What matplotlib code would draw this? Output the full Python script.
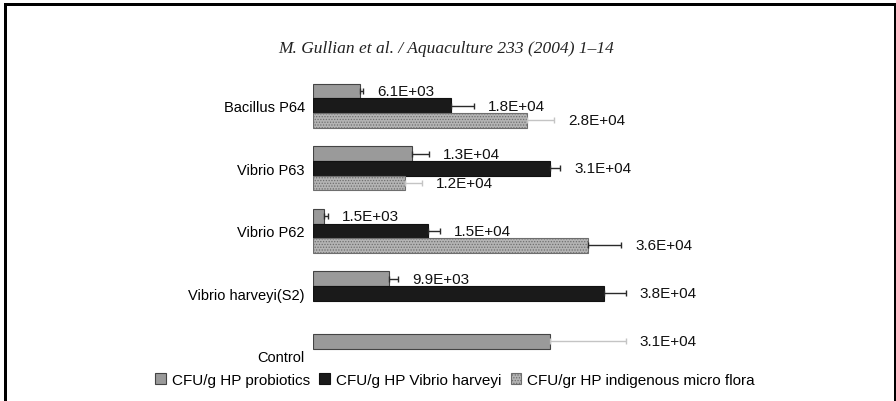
import numpy as np
import matplotlib.pyplot as plt
from matplotlib.lines import Line2D

# ── Data (CFU/g hepatopancreas) ───────────────────────────────────────
categories = ["Bacillus P64", "Vibrio P63", "Vibrio P62", "Vibrio harveyi(S2)", "Control"]

probiotics     = [6100, 13000, 1500, 9900, 31000]
probiotics_err = [500, 2100, 400, 1200, 9900]

vibrio     = [18000, 31000, 15000, 38000, np.nan]
vibrio_err = [3000, 1300, 1600, 2900, np.nan]

indigenous     = [28000, 12000, 36000, np.nan, np.nan]
indigenous_err = [3500, 2200, 4300, np.nan, np.nan]

series_names = ["CFU/g HP probiotics", "CFU/g HP Vibrio harveyi",
                "CFU/gr HP indigenous micro flora"]

plt.rcParams['font.family'] = ['Liberation Sans', 'DejaVu Sans']
plt.rcParams['hatch.linewidth'] = 0.6

fig = plt.figure(figsize=(8.96, 4.02), dpi=100)
W, H = 896, 402

# axes placed in pixel terms: x from 313 to ~695, y from 78 to 380
ax = fig.add_axes([313 / W, 1 - 380 / H, 382.5 / W, 302 / H])

h = 0.233
ypos = np.arange(len(categories))

styles = [
    dict(color="#9a9a9a", edgecolor="#444444", hatch=None),
    dict(color="#1a1a1a", edgecolor="#111111", hatch=None),
    dict(color="#b4b4b4", edgecolor="#6e6e6e", hatch="......"),
]
# (series, category) whose error whisker is drawn pale in the original
pale_err = {(0, 4), (2, 0), (2, 1)}

all_vals = [probiotics, vibrio, indigenous]
all_errs = [probiotics_err, vibrio_err, indigenous_err]

for k, (vals, errs) in enumerate(zip(all_vals, all_errs)):
    y = ypos + (k - 1) * h
    st = styles[k]
    ax.barh(y, vals, height=h, color=st["color"], edgecolor=st["edgecolor"],
            linewidth=0.8, hatch=st["hatch"], label=series_names[k])
    for i, (yi, v, e) in enumerate(zip(y, vals, errs)):
        if np.isnan(v):
            continue
        ecol = "#c4c4c4" if (k, i) in pale_err else "#2a2a2a"
        ax.errorbar(v, yi, xerr=[[0], [e]], fmt="none", ecolor=ecol,
                    elinewidth=1.0, capsize=2.5, capthick=1.0)
        ax.annotate(f"{v:.1E}", xy=(v + e, yi), xytext=(10, 0),
                    textcoords="offset points", va="center", ha="left",
                    fontsize=11, color="#111111")

# Control lives in the probiotics slot, label sits at the group centre
ax.set_yticks(ypos)
ax.set_yticklabels(categories, fontsize=10.5)
ax.tick_params(axis="y", length=0, pad=6)
ax.set_ylim(4.37, -0.46)
ax.set_xlim(0, 50000)
ax.set_xticks([])
for s in ax.spines.values():
    s.set_visible(False)

# legend across the bottom
fig.legend(loc="center", bbox_to_anchor=(455 / W, 1 - 381 / H), ncol=3,
           frameon=False, fontsize=11, handlelength=0.7, handleheight=0.7,
           handletextpad=0.4, columnspacing=0.6)

# journal header
fig.text(446 / W, 1 - 49 / H, "M. Gullian et al. / Aquaculture 233 (2004) 1\u201314",
         ha="center", va="center", fontsize=12.5, style="italic",
         family=["Liberation Serif", "DejaVu Serif"], color="#222222")

# black frame (left, top, right; bottom is cut off)
lw = 3
fig.add_artist(Line2D([4.5 / W, 4.5 / W], [0, 1 - 4.5 / H], color="black",
                      lw=lw * 0.72, transform=fig.transFigure))
fig.add_artist(Line2D([4.5 / W, 894.5 / W], [1 - 4.5 / H, 1 - 4.5 / H], color="black",
                      lw=lw * 0.72, transform=fig.transFigure))
fig.add_artist(Line2D([894.5 / W, 894.5 / W], [0, 1 - 4.5 / H], color="black",
                      lw=lw * 0.72, transform=fig.transFigure))

fig.savefig("out.png", dpi=100, facecolor="white")
